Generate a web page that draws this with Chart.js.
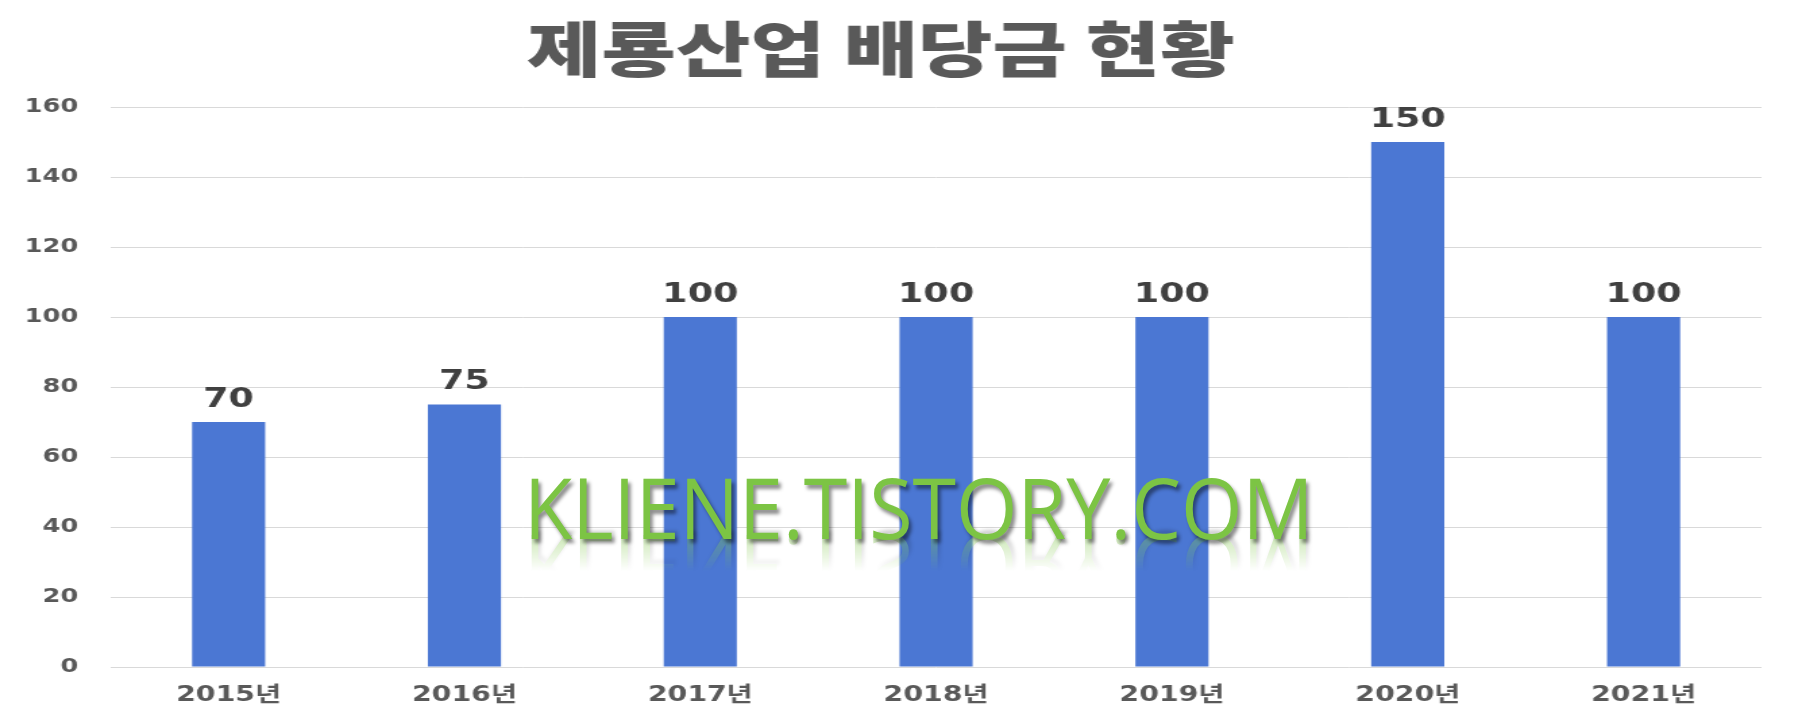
<!DOCTYPE html>
<html>
<head>
<meta charset="utf-8">
<script src="https://cdn.jsdelivr.net/npm/chart.js@4/dist/chart.umd.min.js"></script>
<style>
  body { margin: 0; background: #fff; }
  #wrap { position: relative; width: 1802px; height: 724px; overflow: hidden; }
  #c { display: block; }
  #wm {
    position: absolute; left: 524px; top: 465px;
    display: inline-block; white-space: nowrap;
    font-family: 'Open Sans', sans-serif; font-size: 84px; line-height: 1;
    color: #7cc444;
    text-shadow: 3px 4px 4px rgba(0,0,0,0.45);
    transform-origin: left top;
    -webkit-box-reflect: below -24px linear-gradient(transparent 45%, rgba(255,255,255,0.5));
  }
</style>
</head>
<body>
<div id="wrap">
  <canvas id="c" width="1335" height="724" style="width:1802px;height:724px"></canvas>
  <div id="wm">KLIENE.TISTORY.COM</div>
</div>
<script>
const years = ['2015년', '2016년', '2017년', '2018년', '2019년', '2020년', '2021년'];
const dividends = [70, 75, 100, 100, 100, 150, 100];
const yTicks = [0, 20, 40, 60, 80, 100, 120, 140, 160];

// the original picture is stretched sideways, so the canvas is drawn narrow and widened by css
const labelFont = "'DejaVu Sans', 'Noto Sans CJK KR', sans-serif";

// value labels over the bars
const barLabels = {
  id: 'barLabels',
  afterDatasetsDraw(chart) {
    const ctx = chart.ctx;
    const meta = chart.getDatasetMeta(0);
    ctx.save();
    ctx.font = 'bold 27px ' + labelFont;
    ctx.fillStyle = '#404040';
    ctx.textAlign = 'center';
    ctx.textBaseline = 'bottom';
    meta.data.forEach((bar, i) => {
      ctx.fillText(dividends[i], bar.x, bar.y - 9);
    });
    ctx.restore();
  }
};

new Chart(document.getElementById('c'), {
  type: 'bar',
  data: {
    labels: years,
    datasets: [{
      data: dividends,
      backgroundColor: '#4b77d3',
      barPercentage: 0.31,
      categoryPercentage: 1
    }]
  },
  options: {
    responsive: false,
    devicePixelRatio: 1,
    animation: false,
    layout: { padding: { left: 0, right: 30, top: 0, bottom: 0 } },
    plugins: {
      legend: { display: false },
      tooltip: { enabled: false },
      title: {
        display: true,
        text: '제룡산업 배당금 현황',
        color: '#595959',
        font: { family: "'Noto Sans CJK KR', sans-serif", size: 60, weight: '900' },
        padding: { top: 13, bottom: 22 }
      }
    },
    scales: {
      x: {
        grid: { display: false, drawTicks: false },
        border: { display: false },
        ticks: { color: '#595959', font: { family: labelFont, size: 21, weight: 'bold' }, padding: 16 },
        afterFit: s => { s.height = 57; }
      },
      y: {
        min: 0,
        max: 160,
        afterBuildTicks: s => { s.ticks = yTicks.map(v => ({ value: v })); },
        grid: { color: '#d9d9d9', drawTicks: false },
        border: { display: false },
        ticks: { color: '#595959', font: { family: labelFont, size: 19, weight: 'bold' }, padding: 24 },
        afterFit: s => { s.width = 82; }
      }
    }
  },
  plugins: [barLabels]
});

// fit the watermark to its width in the picture
const wm = document.getElementById('wm');
wm.style.transform = 'scaleX(' + (789 / wm.offsetWidth) + ')';
</script>
</body>
</html>
